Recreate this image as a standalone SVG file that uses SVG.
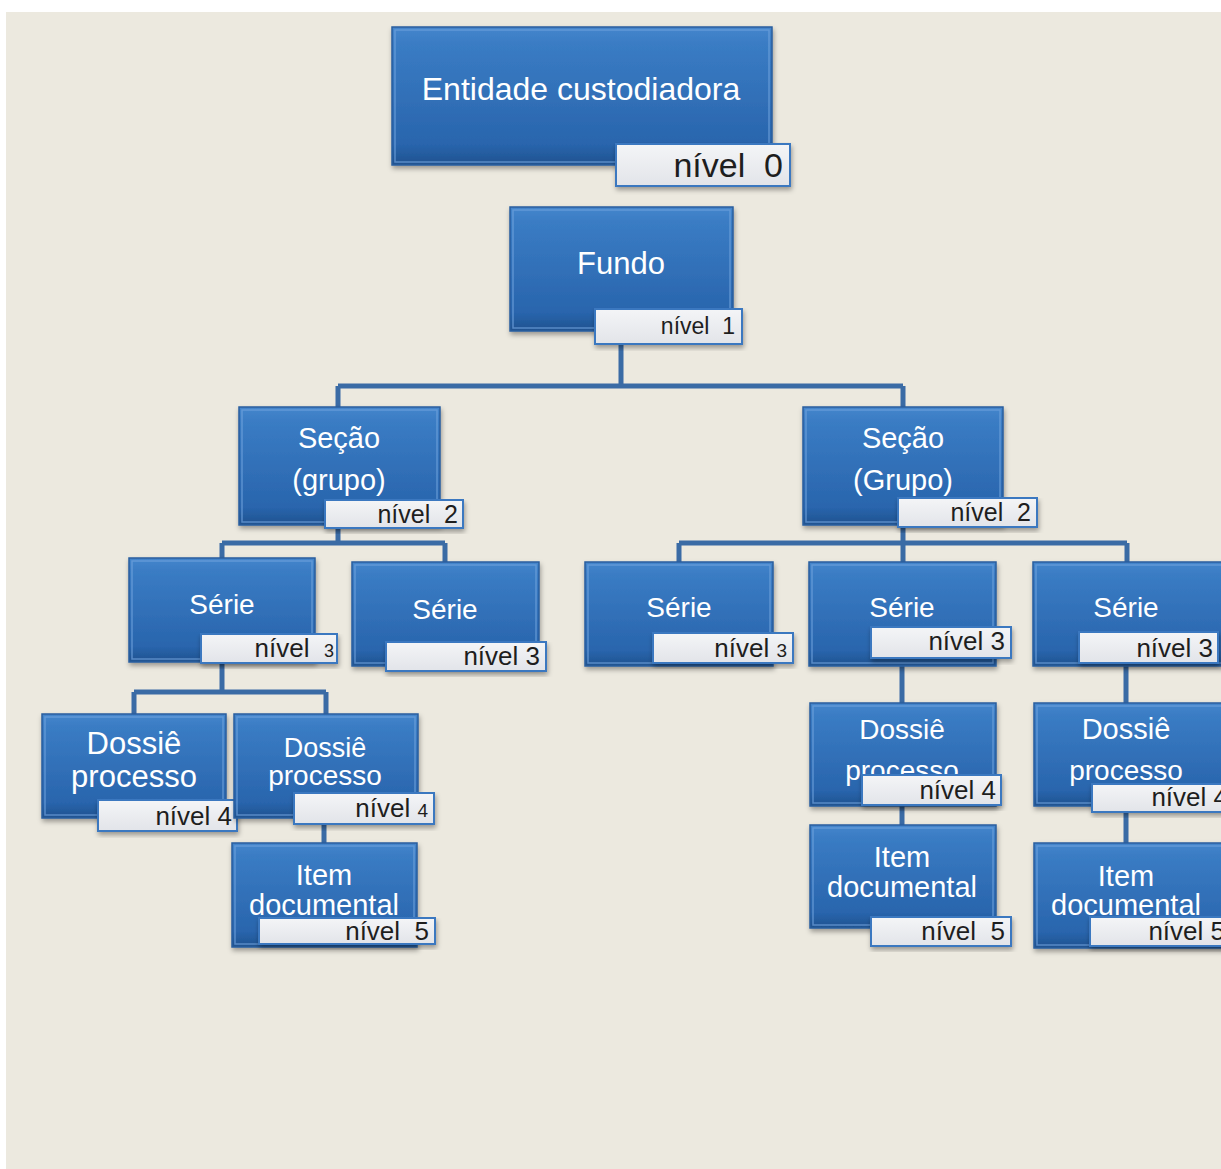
<svg xmlns="http://www.w3.org/2000/svg" width="1221" height="1169" viewBox="0 0 1221 1169">
<defs>
<linearGradient id="gBox" x1="0" y1="0" x2="0" y2="1">
<stop offset="0" stop-color="#4586CC"/>
<stop offset="0.12" stop-color="#3A7CC4"/>
<stop offset="0.85" stop-color="#2965AD"/>
<stop offset="1" stop-color="#1F528F"/>
</linearGradient>
<linearGradient id="gLab" x1="0" y1="0" x2="0" y2="1">
<stop offset="0" stop-color="#F4F5F7"/>
<stop offset="1" stop-color="#E2E4E9"/>
</linearGradient>
<filter id="sh" x="-10%" y="-10%" width="125%" height="130%">
<feGaussianBlur in="SourceAlpha" stdDeviation="2.5"/>
<feOffset dx="1" dy="3" result="b"/>
<feFlood flood-color="#000" flood-opacity="0.35"/>
<feComposite in2="b" operator="in"/>
<feMerge><feMergeNode/><feMergeNode in="SourceGraphic"/></feMerge>
</filter>
</defs>
<style>
.box{fill:url(#gBox);stroke:#2A5E9E;stroke-width:1.5;filter:url(#sh)}
.hl{fill:none;stroke:#6FA3DB;stroke-width:1.5;opacity:0.7}
.lab{fill:url(#gLab);stroke:#3B78C0;stroke-width:2;filter:url(#sh)}
.t{fill:#FFFFFF;font-family:"Liberation Sans",Arial,sans-serif;text-anchor:middle}
.l{fill:#1E1E1E;font-family:"Liberation Sans",Arial,sans-serif;text-anchor:end}
.c{fill:none;stroke:#3A6BA5;stroke-width:5}
</style>
<rect x="0" y="0" width="1221" height="1169" fill="#FFFFFF"/>
<rect x="6" y="12" width="1215" height="1157" fill="#ECE9DF"/>

<g id="connectors">
<path class="c" d="M621,344 V386 M338,386 H903 M338,386 V407 M903,386 V407"/>
<path class="c" d="M338,525 V543 M222,543 H445 M222,543 V558 M445,543 V562"/>
<path class="c" d="M903,525 V543 M679,543 H1127 M679,543 V562 M903,543 V562 M1127,543 V562"/>
<path class="c" d="M222,662 V692 M134,692 H326 M134,692 V714 M326,692 V714"/>
<path class="c" d="M324,824 V843"/>
<path class="c" d="M902,666 V703 M902,806 V825"/>
<path class="c" d="M1126,666 V703 M1126,812 V843"/>
</g>

<g id="n0">
<rect class="box" x="392" y="27" width="380" height="138"/>
<rect class="hl" x="395" y="30" width="374" height="132"/>
<text class="t" x="581" y="100" font-size="32">Entidade custodiadora</text>
<rect class="lab" x="616" y="144" width="174" height="42"/>
<text class="l" x="783" y="177" font-size="34" xml:space="preserve">nível  0</text>
</g>

<g id="n1">
<rect class="box" x="510" y="207" width="223" height="124"/>
<rect class="hl" x="513" y="210" width="217" height="118"/>
<text class="t" x="621" y="274" font-size="31">Fundo</text>
<rect class="lab" x="595" y="309" width="147" height="35"/>
<text class="l" x="735" y="334" font-size="23" xml:space="preserve">nível  1</text>
</g>

<g id="n2a">
<rect class="box" x="239" y="407" width="201" height="118"/>
<rect class="hl" x="242" y="410" width="195" height="112"/>
<text class="t" x="339" y="448" font-size="29">Seção</text>
<text class="t" x="339" y="490" font-size="29">(grupo)</text>
<rect class="lab" x="325" y="500" width="138" height="28"/>
<text class="l" x="458" y="523" font-size="25" xml:space="preserve">nível  2</text>
</g>

<g id="n2b">
<rect class="box" x="803" y="407" width="200" height="118"/>
<rect class="hl" x="806" y="410" width="194" height="112"/>
<text class="t" x="903" y="448" font-size="29">Seção</text>
<text class="t" x="903" y="490" font-size="29">(Grupo)</text>
<rect class="lab" x="898" y="498" width="139" height="29"/>
<text class="l" x="1031" y="521" font-size="25" xml:space="preserve">nível  2</text>
</g>

<g id="n3a">
<rect class="box" x="129" y="558" width="186" height="104"/>
<rect class="hl" x="132" y="561" width="180" height="98"/>
<text class="t" x="222" y="614" font-size="28">Série</text>
<rect class="lab" x="201" y="634" width="136" height="29"/>
<text class="l" x="334" y="657" font-size="26" xml:space="preserve">nível  <tspan font-size="18">3</tspan></text>
</g>

<g id="n3b">
<rect class="box" x="352" y="562" width="187" height="104"/>
<rect class="hl" x="355" y="565" width="181" height="98"/>
<text class="t" x="445" y="619" font-size="28">Série</text>
<rect class="lab" x="386" y="642" width="160" height="29"/>
<text class="l" x="540" y="665" font-size="26">nível 3</text>
</g>

<g id="n3c">
<rect class="box" x="585" y="562" width="188" height="104"/>
<rect class="hl" x="588" y="565" width="182" height="98"/>
<text class="t" x="679" y="617" font-size="28">Série</text>
<rect class="lab" x="653" y="633" width="140" height="30"/>
<text class="l" x="787" y="657" font-size="26">nível <tspan font-size="19">3</tspan></text>
</g>

<g id="n3d">
<rect class="box" x="809" y="562" width="187" height="104"/>
<rect class="hl" x="812" y="565" width="181" height="98"/>
<text class="t" x="902" y="617" font-size="28">Série</text>
<rect class="lab" x="871" y="627" width="140" height="31"/>
<text class="l" x="1005" y="650" font-size="26">nível 3</text>
</g>

<g id="n3e">
<rect class="box" x="1033" y="562" width="200" height="104"/>
<rect class="hl" x="1036" y="565" width="194" height="98"/>
<text class="t" x="1126" y="617" font-size="28">Série</text>
<rect class="lab" x="1079" y="632" width="139" height="31"/>
<text class="l" x="1213" y="657" font-size="26">nível 3</text>
</g>

<g id="n4a">
<rect class="box" x="42" y="714" width="184" height="104"/>
<rect class="hl" x="45" y="717" width="178" height="98"/>
<text class="t" x="134" y="754" font-size="31">Dossiê</text>
<text class="t" x="134" y="787" font-size="31">processo</text>
<rect class="lab" x="98" y="800" width="139" height="31"/>
<text class="l" x="232" y="825" font-size="26">nível 4</text>
</g>

<g id="n4b">
<rect class="box" x="234" y="714" width="184" height="104"/>
<rect class="hl" x="237" y="717" width="178" height="98"/>
<text class="t" x="325" y="757" font-size="27">Dossiê</text>
<text class="t" x="325" y="785" font-size="28">processo</text>
<rect class="lab" x="294" y="793" width="140" height="31"/>
<text class="l" x="428" y="817" font-size="26">nível <tspan font-size="19">4</tspan></text>
</g>

<g id="n5a">
<rect class="box" x="232" y="843" width="185" height="104"/>
<rect class="hl" x="235" y="846" width="179" height="98"/>
<text class="t" x="324" y="885" font-size="29">Item</text>
<text class="t" x="324" y="915" font-size="29">documental</text>
<rect class="lab" x="259" y="918" width="176" height="26"/>
<text class="l" x="429" y="940" font-size="26" xml:space="preserve">nível  5</text>
</g>

<g id="n4c">
<rect class="box" x="810" y="703" width="186" height="103"/>
<rect class="hl" x="813" y="706" width="180" height="97"/>
<text class="t" x="902" y="739" font-size="28">Dossiê</text>
<text class="t" x="902" y="780" font-size="28">processo</text>
<rect class="lab" x="862" y="775" width="139" height="30"/>
<text class="l" x="996" y="799" font-size="26">nível 4</text>
</g>

<g id="n5c">
<rect class="box" x="810" y="825" width="186" height="103"/>
<rect class="hl" x="813" y="828" width="180" height="97"/>
<text class="t" x="902" y="867" font-size="29">Item</text>
<text class="t" x="902" y="897" font-size="29">documental</text>
<rect class="lab" x="871" y="917" width="140" height="29"/>
<text class="l" x="1005" y="940" font-size="26" xml:space="preserve">nível  5</text>
</g>

<g id="n4d">
<rect class="box" x="1034" y="703" width="200" height="103"/>
<rect class="hl" x="1037" y="706" width="194" height="97"/>
<text class="t" x="1126" y="739" font-size="29">Dossiê</text>
<text class="t" x="1126" y="780" font-size="28">processo</text>
<rect class="lab" x="1092" y="784" width="140" height="28"/>
<text class="l" x="1228" y="806" font-size="26">nível 4</text>
</g>

<g id="n5d">
<rect class="box" x="1034" y="843" width="200" height="105"/>
<rect class="hl" x="1037" y="846" width="194" height="99"/>
<text class="t" x="1126" y="886" font-size="29">Item</text>
<text class="t" x="1126" y="915" font-size="29">documental</text>
<rect class="lab" x="1090" y="917" width="140" height="29"/>
<text class="l" x="1225" y="940" font-size="26">nível 5</text>
</g>
</svg>
